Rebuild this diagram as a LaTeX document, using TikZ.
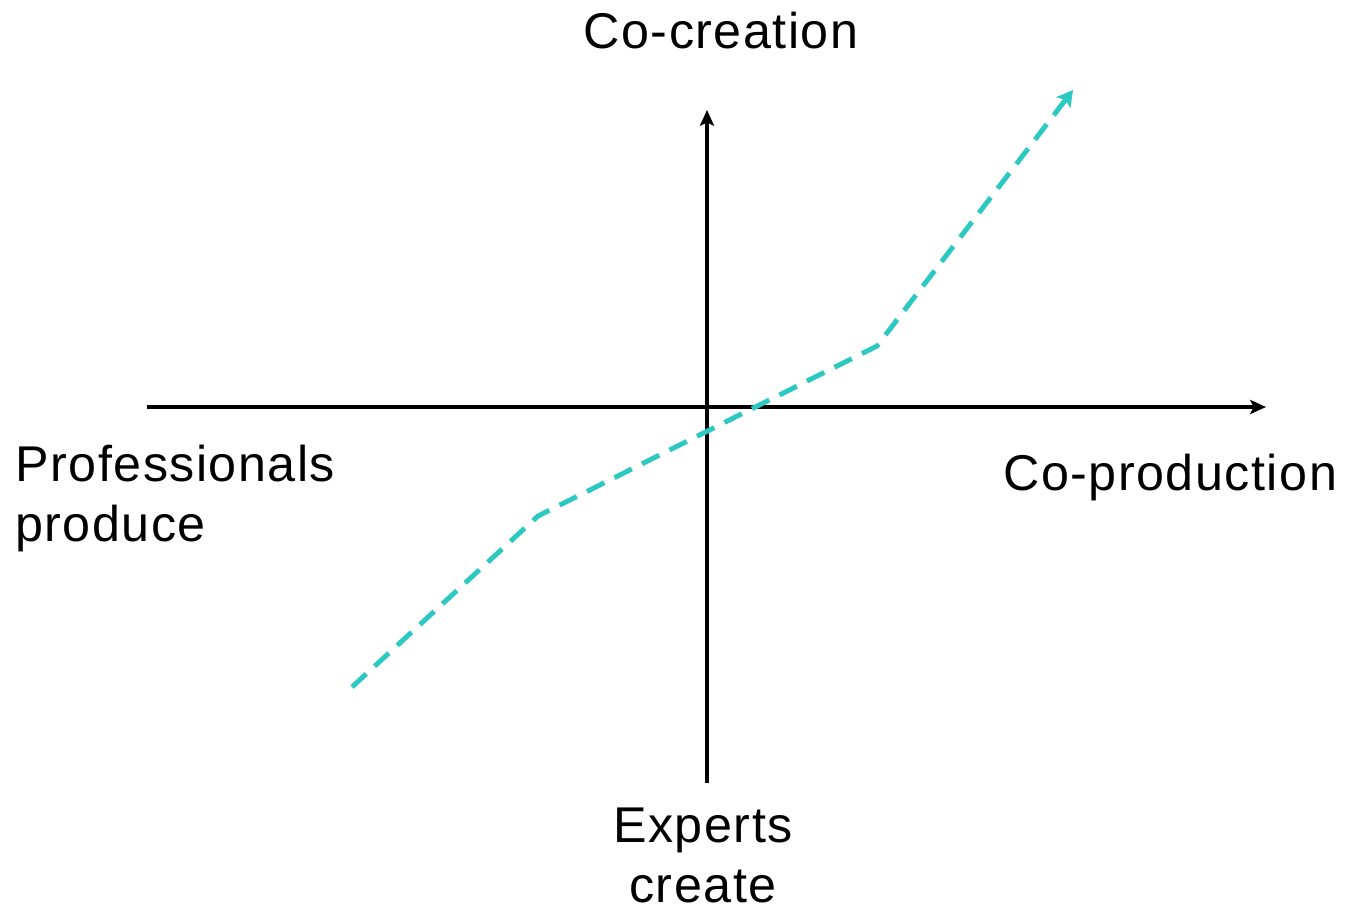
\documentclass[tikz,border=0pt]{standalone}
\usepackage{fontspec}
\setmainfont{Liberation Sans}[LetterSpace=3]
\usetikzlibrary{arrows.meta}
\definecolor{teal1}{RGB}{44,200,194}
\begin{document}
\begin{tikzpicture}[line cap=butt,line join=miter,
	axis/.style={line width=1.8pt,-{Stealth[length=9pt,width=8pt,inset=2pt]}},
	trend/.style={teal1,line width=2.8pt,dash pattern=on 11pt off 6.5pt,-{Stealth[length=9pt,width=10pt,inset=2pt]}},
	lbl/.style={inner sep=0pt,font=\fontsize{28.6}{34}\selectfont}]
		\useasboundingbox (0,0) rectangle (27.08,18.26);
		% axes
		\coordinate (xl) at (2.94,10.12);
		\coordinate (xr) at (25.32,10.12);
		\coordinate (yb) at (14.14,2.6);
		\coordinate (yt) at (14.14,16.06);
		\draw[axis] (xl)--(xr);
		\draw[axis] (yb)--(yt);
		% trend line
		\coordinate (p1) at (7.04,4.52);
		\coordinate (p2) at (10.76,7.94);
		\coordinate (p3) at (17.54,11.34);
		\coordinate (p4) at (21.46,16.46);
		\draw[trend] (p1)--(p2)--(p3)--(p4);
		% labels
		\node[lbl,anchor=base] (cocre) at (14.42,17.28) {Co-creation};
		\node[lbl,anchor=base west] (prof) at (0.3,8.64) {Professionals};
		\node[lbl,anchor=base west] (prod) at (0.3,7.44) {produce};
		\node[lbl,anchor=base west] (coprod) at (20.06,8.46) {Co-production};
		\node[lbl,anchor=base] (exp) at (14.06,1.42) {Experts};
		\node[lbl,anchor=base] (cre) at (14.06,0.22) {create};
	\end{tikzpicture}
\end{document}
